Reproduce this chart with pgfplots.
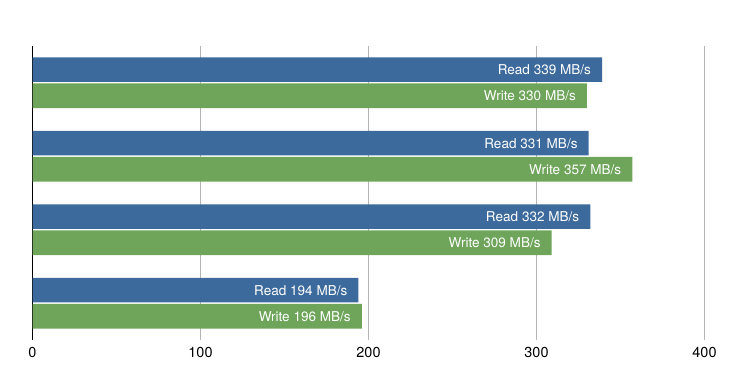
\documentclass[border=0pt]{standalone}
\usepackage{pgfplots}
\pgfplotsset{compat=1.18}
\usepackage{fontspec}
\setmainfont{TeX Gyre Heros}
\definecolor{rblue}{RGB}{60,106,156}
\definecolor{wgreen}{RGB}{110,165,90}
\definecolor{gridgray}{RGB}{180,180,180}
\begin{document}
\begin{tikzpicture}
\path[use as bounding box] (0,0) rectangle (748bp,388bp);
\begin{axis}[
  at={(32.5bp,48bp)}, anchor=south west,
  scale only axis, width=672bp, height=294bp,
  xmin=0, xmax=400, ymin=-0.5, ymax=3.5,
  xtick={0,100,200,300,400},
  ytick=\empty,
  axis x line*=bottom, axis y line*=left,
  x axis line style={draw=none},
  y axis line style={black, line width=1.6bp},
  xmajorgrids, grid style={gridgray, line width=1.3bp},
  major tick length=0pt,
  /pgf/number format/assume math mode=true,
  xticklabel style={font=\fontsize{14.5}{14.5}\selectfont, yshift=-4bp},
  xbar, bar width=24.5bp,
  point meta=x,
  nodes near coords,
  every node near coord/.append style={anchor=east, xshift=-7.5bp, text=white, font=\fontsize{13.6}{13.6}\selectfont},
]
\addplot[fill=rblue, draw=none, bar shift=13bp,
  nodes near coords={Read \pgfmathprintnumber{\pgfplotspointmeta} MB/s}]
  coordinates {(339,3) (331,2) (332,1) (194,0)};
\addplot[fill=wgreen, draw=none, bar shift=-13bp,
  nodes near coords={Write \pgfmathprintnumber{\pgfplotspointmeta} MB/s}]
  coordinates {(330,3) (357,2) (309,1) (196,0)};
\end{axis}
\end{tikzpicture}
\end{document}
